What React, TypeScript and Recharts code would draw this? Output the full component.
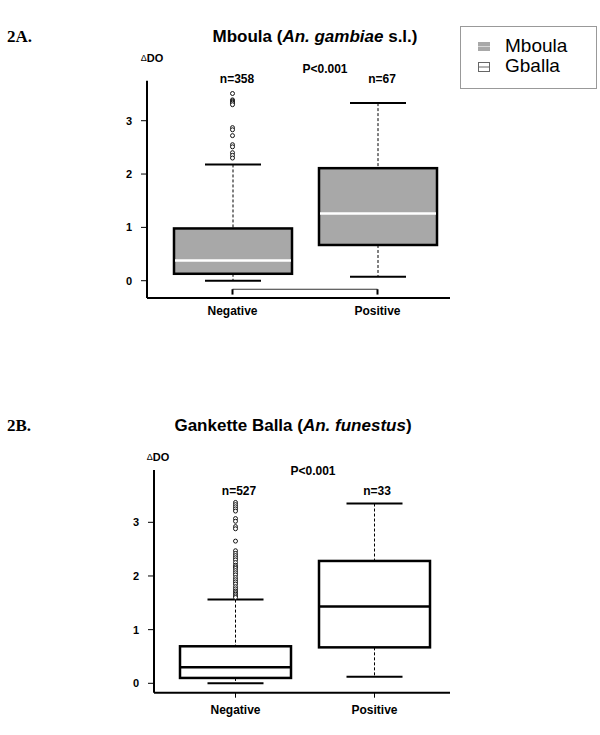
import React from 'react';
import { Bar, ComposedChart, ReferenceLine, Scatter, XAxis, YAxis } from 'recharts';

const groups = ['Negative', 'Positive'];
const yTicks = [0, 1, 2, 3];

// 2A. Mboula (An. gambiae s.l.)
const mboulaLow = [0, 0.075];
const mboulaQ1 = [0.13, 0.67];
const mboulaMedian = [0.38, 1.26];
const mboulaQ3 = [0.98, 2.11];
const mboulaHigh = [2.18, 3.33];
const mboulaCounts = [358, 67];
const mboulaOutliers = [3.51, 3.39, 3.37, 3.35, 3.33, 3.3, 2.87, 2.83, 2.72, 2.55, 2.51, 2.4, 2.35, 2.3];

// 2B. Gankette Balla (An. funestus)
const gballaLow = [0, 0.12];
const gballaQ1 = [0.1, 0.67];
const gballaMedian = [0.3, 1.43];
const gballaQ3 = [0.69, 2.28];
const gballaHigh = [1.56, 3.35];
const gballaCounts = [527, 33];
const gballaOutliers = [
  3.37, 3.33, 3.29, 3.25, 3.21, 3.07, 3.02, 2.92, 2.88, 2.65, 2.47, 2.42, 2.38, 2.34, 2.3, 2.25,
  2.2, 2.17, 2.14, 2.1, 2.06, 2.02, 1.97, 1.93, 1.89, 1.85, 1.8, 1.76, 1.72, 1.69, 1.66, 1.63, 1.6,
];

const legendNames = ['Mboula', 'Gballa'];
const pValue = 'P<0.001';

const buildRows = (low: number[], q1: number[], med: number[], q3: number[], high: number[]) =>
  groups.map((group, i) => ({
    group,
    low: low[i],
    q1: q1[i],
    med: med[i],
    q3: q3[i],
    high: high[i],
  }));

const FONT = '"Liberation Sans", Arial, sans-serif';

// box drawn from the bar's own geometry; whiskers follow the same y scale
const makeBoxShape = (fill: string, medianColor: string) => (props: any) => {
  const { x, y, width, height, payload } = props;
  const { low, q1, med, q3, high } = payload;
  const k = height / (q3 - q1);
  const py = (v: number) => y + (q3 - v) * k;
  const cx = x + width / 2;
  const cap = 28;
  return (
    <g>
      <line x1={cx} x2={cx} y1={py(high)} y2={y} stroke="#000" strokeWidth={1} strokeDasharray="3 2" />
      <line x1={cx} x2={cx} y1={y + height} y2={py(low)} stroke="#000" strokeWidth={1} strokeDasharray="3 2" />
      <line x1={cx - cap} x2={cx + cap} y1={py(high)} y2={py(high)} stroke="#000" strokeWidth={2} />
      <line x1={cx - cap} x2={cx + cap} y1={py(low)} y2={py(low)} stroke="#000" strokeWidth={2} />
      <rect x={x} y={y} width={width} height={height} fill={fill} stroke="#000" strokeWidth={2.5} />
      <line x1={x + 1} x2={x + width - 1} y1={py(med)} y2={py(med)} stroke={medianColor} strokeWidth={2.5} />
    </g>
  );
};

const Outlier = (props: any) => (
  <circle cx={props.cx} cy={props.cy} r={2} fill="#fff" stroke="#000" strokeWidth={0.9} />
);

const tickStyle = { fill: '#000', fontSize: 11, fontWeight: 700, fontFamily: FONT };

interface PanelProps {
  rows: ReturnType<typeof buildRows>;
  outliers: number[];
  domain: [number, number];
  top: number;
  marginTop: number;
  xHeight: number;
  yWidth: number;
  padding: { left: number; right: number };
  barSize: number;
  fill: string;
  medianColor: string;
  xTicks: boolean;
  bracket?: boolean;
}

const Panel = ({ rows, outliers, domain, top, marginTop, xHeight, yWidth, padding, barSize, fill, medianColor, xTicks, bracket }: PanelProps) => {
  const outlierData = outliers.map((value) => ({ group: groups[0], value }));
  return (
    <div style={{ position: 'absolute', left: 0, top }}>
      <ComposedChart width={600} height={320} data={rows} margin={{ top: marginTop, right: 150, bottom: 0, left: 0 }}>
        <XAxis
          dataKey="group"
          type="category"
          allowDuplicatedCategory={false}
          padding={padding}
          height={xHeight}
          axisLine={{ stroke: '#000', strokeWidth: 2 }}
          tickLine={xTicks ? { stroke: '#000', strokeWidth: 1 } : false}
          tickSize={5}
          tickMargin={xTicks ? 8 : 3}
          tick={{ ...tickStyle, fontSize: 12 }}
        />
        <YAxis
          type="number"
          domain={domain}
          allowDataOverflow
          ticks={yTicks}
          width={yWidth}
          axisLine={{ stroke: '#000', strokeWidth: 2 }}
          tickLine={{ stroke: '#000', strokeWidth: 1 }}
          tickSize={6}
          tickMargin={9}
          tick={tickStyle}
        />
        <Bar
          dataKey={(d: any) => [d.q1, d.q3]}
          barSize={barSize}
          shape={makeBoxShape(fill, medianColor)}
          isAnimationActive={false}
        />
        <Scatter data={outlierData} dataKey="value" shape={<Outlier />} isAnimationActive={false} />
        {bracket && (
          <ReferenceLine
            segment={[{ x: groups[0], y: -0.16 }, { x: groups[1], y: -0.16 }]}
            stroke="#333"
            strokeWidth={1}
          />
        )}
        {bracket && (
          <ReferenceLine
            segment={[{ x: groups[0], y: -0.16 }, { x: groups[0], y: -0.26 }]}
            stroke="#000"
            strokeWidth={2}
          />
        )}
        {bracket && (
          <ReferenceLine
            segment={[{ x: groups[1], y: -0.16 }, { x: groups[1], y: -0.26 }]}
            stroke="#000"
            strokeWidth={2}
          />
        )}
      </ComposedChart>
    </div>
  );
};

const Title = ({ x, y, main, italic, tail }: { x: number; y: number; main: string; italic: string; tail: string }) => (
  <text x={x} y={y} textAnchor="middle" dominantBaseline="central" fontFamily={FONT} fontWeight={700} fontSize={17}>
    {main} (<tspan fontStyle="italic">{italic}</tspan>
    {tail})
  </text>
);

const Annot = ({ x, y, children, size = 12 }: { x: number; y: number; children: React.ReactNode; size?: number }) => (
  <text x={x} y={y} textAnchor="middle" dominantBaseline="central" fontFamily={FONT} fontWeight={700} fontSize={size}>
    {children}
  </text>
);

export default function App() {
  const mboulaRows = buildRows(mboulaLow, mboulaQ1, mboulaMedian, mboulaQ3, mboulaHigh);
  const gballaRows = buildRows(gballaLow, gballaQ1, gballaMedian, gballaQ3, gballaHigh);

  return (
    <div style={{ position: 'absolute', left: 0, top: 0, width: 600, height: 735, background: '#fff' }}>
      <Panel
        rows={mboulaRows}
        outliers={mboulaOutliers}
        domain={[-0.324, 3.75]}
        top={0}
        marginTop={80.7}
        xHeight={22}
        yWidth={147}
        padding={{ left: 13, right: 0 }}
        barSize={118}
        fill="#a8a8a8"
        medianColor="#fff"
        xTicks={false}
        bracket
      />
      <Panel
        rows={gballaRows}
        outliers={gballaOutliers}
        domain={[-0.175, 3.975]}
        top={400}
        marginTop={70}
        xHeight={27.3}
        yWidth={154}
        padding={{ left: 12, right: 6 }}
        barSize={111}
        fill="#fff"
        medianColor="#000"
        xTicks
      />

      <svg width={600} height={735} style={{ position: 'absolute', left: 0, top: 0, pointerEvents: 'none' }}>
        <text x={7} y={36} dominantBaseline="central" fontFamily='"Liberation Serif", "Times New Roman", serif' fontWeight={700} fontSize={17}>
          2A.
        </text>
        <Title x={315} y={36} main="Mboula" italic="An. gambiae" tail=" s.l." />
        <Annot x={152} y={58} size={11}>
          <tspan fontWeight={400} fontSize={9}>Δ</tspan>DO
        </Annot>
        <Annot x={325} y={69}>{pValue}</Annot>
        <Annot x={237} y={79}>{`n=${mboulaCounts[0]}`}</Annot>
        <Annot x={382} y={79}>{`n=${mboulaCounts[1]}`}</Annot>

        <text x={7} y={425} dominantBaseline="central" fontFamily='"Liberation Serif", "Times New Roman", serif' fontWeight={700} fontSize={17}>
          2B.
        </text>
        <Title x={293} y={425} main="Gankette Balla" italic="An. funestus" tail="" />
        <Annot x={158} y={457} size={11}>
          <tspan fontWeight={400} fontSize={9}>Δ</tspan>DO
        </Annot>
        <Annot x={313} y={471}>{pValue}</Annot>
        <Annot x={239} y={491}>{`n=${gballaCounts[0]}`}</Annot>
        <Annot x={377} y={491}>{`n=${gballaCounts[1]}`}</Annot>
      </svg>

      <div
        style={{
          position: 'absolute',
          left: 460,
          top: 26,
          width: 137,
          height: 63,
          border: '1px solid #999',
          boxSizing: 'border-box',
          fontFamily: FONT,
          fontSize: 19,
          lineHeight: '20px',
        }}
      >
        <svg width={14} height={50} style={{ position: 'absolute', left: 16, top: 9 }}>
          <rect x={1} y={6} width={12} height={9} fill="#a8a8a8" />
          <line x1={1} x2={13} y1={10.5} y2={10.5} stroke="#d8d8d8" strokeWidth={1} />
          <rect x={1.5} y={26.5} width={11} height={9} fill="#fff" stroke="#666" strokeWidth={1} />
          <line x1={1} x2={13} y1={31} y2={31} stroke="#666" strokeWidth={1} />
        </svg>
        <div style={{ position: 'absolute', left: 44, top: 9 }}>{legendNames[0]}</div>
        <div style={{ position: 'absolute', left: 44, top: 29 }}>{legendNames[1]}</div>
      </div>
    </div>
  );
}
